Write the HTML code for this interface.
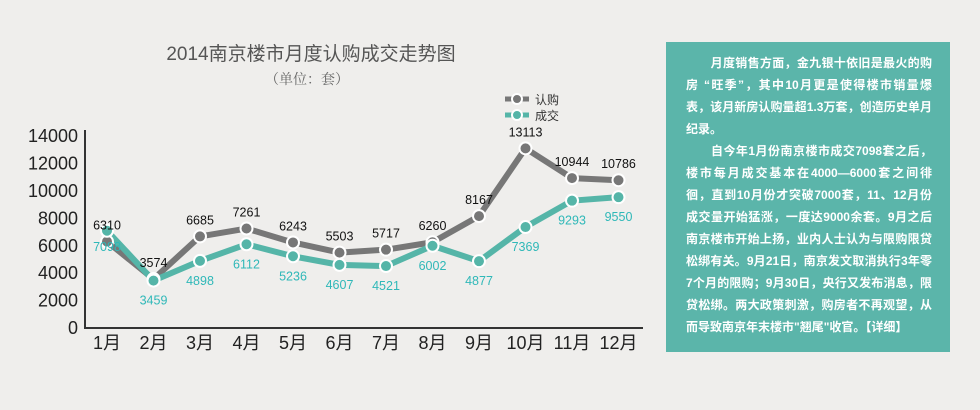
<!DOCTYPE html>
<html><head><meta charset="utf-8"><style>
body{margin:0;width:980px;height:410px;background:#efeeec;overflow:hidden;font-family:"Liberation Sans","Noto Sans CJK SC",sans-serif}
#p{position:absolute;left:666px;top:42px;width:284px;height:310px;background:#5bb5aa}
#p div{position:absolute;left:20px;width:246px;height:22px;color:#fff;font-weight:bold;font-size:12px;line-height:22px;text-align:justify;text-align-last:justify;white-space:nowrap}
#p div.l{text-align-last:left}
</style></head><body>
<svg id="s" width="660" height="410" style="position:absolute;left:0;top:0" font-family="Liberation Sans, Noto Sans CJK SC, sans-serif"></svg>
<div id="p"></div>
<script>
var L=[["　　月度销售方面，金九银十依旧是最火的购",0],["房 “旺季”，其中10月更是使得楼市销量爆",0],["表，该月新房认购量超1.3万套，创造历史单月",0],["纪录。",1],["　　自今年1月份南京楼市成交7098套之后，",0],["楼市每月成交基本在4000—6000套之间徘",0],["徊，直到10月份才突破7000套，11、12月份",0],["成交量开始猛涨，一度达9000余套。9月之后",0],["南京楼市开始上扬，业内人士认为与限购限贷",0],["松绑有关。9月21日，南京发文取消执行3年零",0],["7个月的限购；9月30日，央行又发布消息，限",0],["贷松绑。两大政策刺激，购房者不再观望，从",0],["而导致南京年末楼市\"翘尾\"收官。【详细】",1]];
var q='';for(var j=0;j<L.length;j++){var t=j<4?9+j*22:97+(j-4)*22;q+='<div class="'+(L[j][1]?'l':'')+'" style="top:'+(t+1)+'px">'+L[j][0]+'</div>';}
document.getElementById('p').innerHTML=q;
var a=[6310,3574,6685,7261,6243,5503,5717,6260,8167,13113,10944,10786];
var b=[7098,3459,4898,6112,5236,4607,4521,6002,4877,7369,9293,9550];
function X(i){return 107+i*46.5}function Y(v){return 328-v*0.0137}
var h='<text x="311" y="60" font-size="19" fill="#555" text-anchor="middle">2014南京楼市月度认购成交走势图</text>';
h+='<text x="307" y="84" font-size="14" fill="#666" text-anchor="middle" font-family="Noto Serif CJK SC, serif">（单位：套）</text>';
h+='<path d="M85 130V328H643" stroke="#333" stroke-width="2" fill="none"/>';
for(var k=0;k<=7;k++)h+='<text x="78" y="'+(Y(k*2000)+6)+'" font-size="18" fill="#222" text-anchor="end">'+(k*2000)+'</text>';
for(var i=0;i<12;i++)h+='<text x="'+X(i)+'" y="349" font-size="18" fill="#222" text-anchor="middle">'+(i+1)+'月</text>';
function line(d,c){var s='';for(var i=0;i<12;i++)s+=(i?'L':'M')+X(i)+' '+Y(d[i]);return '<path d="'+s+'" stroke="'+c+'" stroke-width="6" fill="none" stroke-linejoin="round"/>'}
function dots(d,c){var s='';for(var i=0;i<12;i++)s+='<circle cx="'+X(i)+'" cy="'+Y(d[i])+'" r="6" fill="'+c+'" stroke="#fff" stroke-width="2"/>';return s}
h+=line(a,'#777')+line(b,'#55b5a8')+dots(a,'#777')+dots(b,'#55b5a8');
for(var i=0;i<12;i++){h+='<text x="'+X(i)+'" y="'+(Y(a[i])-12)+'" font-size="12.5" fill="#111" text-anchor="middle">'+a[i]+'</text>';
h+='<text x="'+X(i)+'" y="'+(Y(b[i])+(i==0?20:24))+'" font-size="12.5" fill="#2fb8b8" text-anchor="middle">'+b[i]+'</text>';}
h+='<path d="M505 99H529" stroke="#777" stroke-width="5"/><circle cx="517" cy="99" r="5" fill="#777" stroke="#fff" stroke-width="2"/><text x="535" y="104" font-size="12" fill="#333">认购</text>';
h+='<path d="M505 115H529" stroke="#55b5a8" stroke-width="5"/><circle cx="517" cy="115" r="5" fill="#55b5a8" stroke="#fff" stroke-width="2"/><text x="535" y="120" font-size="12" fill="#333">成交</text>';
document.getElementById('s').innerHTML=h;
</script>
</body></html>
